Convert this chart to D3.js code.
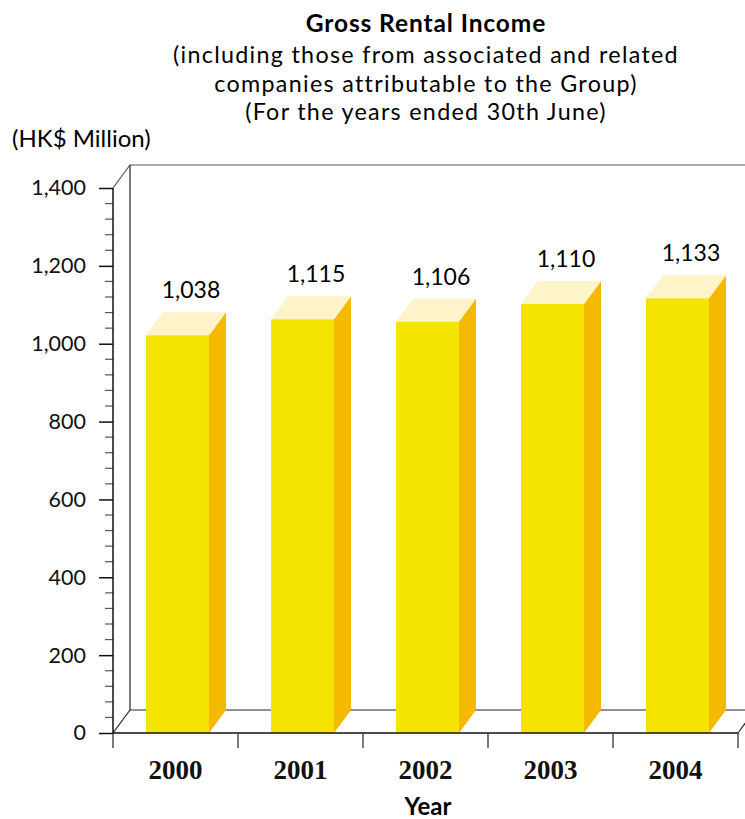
<!DOCTYPE html>
<html>
<head>
<meta charset="utf-8">
<script src="https://cdn.jsdelivr.net/npm/d3@7/dist/d3.min.js"></script>
<style>
  body { margin: 0; background: #fff; }
  svg { display: block; }
</style>
</head>
<body>
<script>
var years = ["2000", "2001", "2002", "2003", "2004"];
// printed labels above the bars
var labels = [1038, 1115, 1106, 1110, 1133];
// bar heights as drawn in the original picture
var barValues = [1022, 1063, 1057, 1102, 1117];
var yTicks = [0, 200, 400, 600, 800, 1000, 1200, 1400];
var titleLines = ["(including those from associated and related",
                  "companies attributable to the Group)",
                  "(For the years ended 30th June)"];

var width = 745, height = 819;
var sans = "Lato, 'Open Sans', sans-serif";

var svg = d3.select("body").append("svg")
    .attr("width", width)
    .attr("height", height);

var x = d3.scaleBand().domain(years).range([113, 738]),
    y = d3.scaleLinear().domain([0, 1400]).range([733, 188]);

var dx = 17, dy = -23;

// title
svg.append("text")
    .attr("x", 426).attr("y", 32)
    .attr("text-anchor", "middle")
    .style("font-family", sans).style("font-size", "24.5px").style("font-weight", "bold")
    .style("letter-spacing", "0.9px")
    .text("Gross Rental Income");
svg.selectAll(".sub")
    .data(titleLines)
    .enter().append("text")
    .attr("x", 426)
    .attr("y", function(d, i) { return 63 + i * 28.5; })
    .attr("text-anchor", "middle")
    .style("font-family", sans).style("font-size", "23.3px")
    .style("letter-spacing", "1.3px")
    .text(function(d) { return d; });

svg.append("text")
    .attr("x", 12).attr("y", 147)
    .style("font-family", sans).style("font-size", "24px")
    .text("(HK$ Million)");

// back wall and floor
var g = svg.append("g").attr("fill", "none").attr("stroke-width", 1.2);
g.append("path").attr("stroke", "#555")
    .attr("d", "M" + (113) + "," + y(1400) + "L" + (113 + dx) + "," + (y(1400) + dy) + "H" + width);
g.append("path").attr("stroke", "#222")
    .attr("d", "M" + (113 + dx) + "," + (y(1400) + dy) + "V" + (y(0) + dy) + "H" + width);
g.append("path").attr("stroke", "#222")
    .attr("d", "M113," + y(0) + "L" + (113 + dx) + "," + (y(0) + dy));
g.append("path").attr("stroke", "#222")
    .attr("d", "M" + x.range()[1] + "," + y(0) + "L" + (x.range()[1] + dx) + "," + (y(0) + dy));

// bars
var bx = function(i) { return x(years[i]) + 33; },
    bw = 63;
var bars = svg.selectAll(".bar")
    .data(barValues)
    .enter().append("g")
    .attr("class", "bar");
bars.append("rect")
    .attr("x", function(d, i) { return bx(i); })
    .attr("y", function(d) { return y(d); })
    .attr("width", bw)
    .attr("height", function(d) { return y(0) - y(d); })
    .attr("fill", "#f5e400");
bars.append("path")
    .attr("fill", "#f4b900")
    .attr("d", function(d, i) {
      var x1 = bx(i) + bw;
      return "M" + x1 + "," + y(d) + "L" + (x1 + dx) + "," + (y(d) + dy) +
        "V" + (y(0) + dy) + "L" + x1 + "," + y(0) + "Z";
    });
bars.append("path")
    .attr("fill", "#fef3c9")
    .attr("d", function(d, i) {
      var x0 = bx(i), x1 = bx(i) + bw;
      return "M" + x0 + "," + y(d) + "L" + (x0 + dx) + "," + (y(d) + dy) +
        "H" + (x1 + dx) + "L" + x1 + "," + y(d) + "Z";
    });
bars.append("text")
    .attr("x", function(d, i) { return x(years[i]) + 78; })
    .attr("y", function(d) { return y(d) + dy - 14; })
    .attr("text-anchor", "middle")
    .style("font-family", sans).style("font-size", "23px")
    .text(function(d, i) { return d3.format(",")(labels[i]); });

// y axis
var yAxis = svg.append("g")
    .attr("transform", "translate(113,0)")
    .call(d3.axisLeft(y).tickValues(yTicks).tickSize(14).tickFormat(d3.format(",")));
yAxis.select(".domain").remove();
yAxis.selectAll("text")
    .attr("x", -27)
    .style("font-family", sans).style("font-size", "21.5px").attr("fill", "#111");
yAxis.selectAll("line").attr("stroke", "#111").attr("stroke-width", 1.5);

var minor = d3.range(0, 1401, 40).filter(function(v) { return v % 200 !== 0; });
svg.append("g").selectAll("line")
    .data(minor)
    .enter().append("line")
    .attr("x1", 105).attr("x2", 113)
    .attr("y1", function(d) { return y(d); })
    .attr("y2", function(d) { return y(d); })
    .attr("stroke", "#555").attr("stroke-width", 1.2);

svg.append("line")
    .attr("x1", 113).attr("x2", 113)
    .attr("y1", y(1400)).attr("y2", y(0))
    .attr("stroke", "#111").attr("stroke-width", 1.5);

// x axis
var xAxis = svg.append("g")
    .attr("transform", "translate(0," + y(0) + ")")
    .call(d3.axisBottom(x).tickSize(0).tickPadding(27));
xAxis.select(".domain").attr("stroke", "#111").attr("stroke-width", 1.5)
    .attr("d", "M113,0H" + x.range()[1]);
xAxis.selectAll("text")
    .style("font-family", "'Liberation Serif', serif").style("font-size", "27px")
    .style("font-weight", "bold").attr("fill", "#111");
svg.append("g").selectAll("line")
    .data(d3.range(years.length + 1))
    .enter().append("line")
    .attr("x1", function(i) { return 113 + i * x.step(); })
    .attr("x2", function(i) { return 113 + i * x.step(); })
    .attr("y1", y(0)).attr("y2", y(0) + 15)
    .attr("stroke", "#333").attr("stroke-width", 1.3);

svg.append("text")
    .attr("x", 428).attr("y", 815)
    .attr("text-anchor", "middle")
    .style("font-family", sans).style("font-size", "24px").style("font-weight", "bold")
    .text("Year");
</script>
</body>
</html>
